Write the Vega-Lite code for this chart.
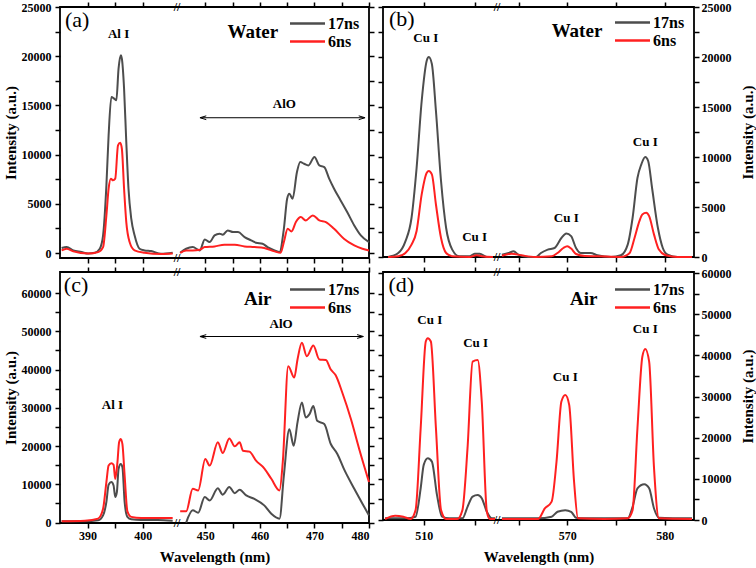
{
  "$schema": "https://vega.github.io/schema/vega-lite/v6.json",
  "padding": {"left": 2, "top": 0, "right": 0, "bottom": 0},
  "background": "white",
  "config": {
    "view": {"stroke": "black", "strokeWidth": 1.8},
    "font": "Liberation Serif",
    "axis": {"domain": false, "grid": false, "tickColor": "black", "tickWidth": 1.5, "tickSize": 5,
      "labelFont": "Liberation Serif", "labelFontSize": 12, "labelFontWeight": "bold", "labelColor": "black", "labelPadding": 4,
      "titleFont": "Liberation Serif", "titleFontSize": 15, "titleFontWeight": "bold", "titleColor": "black", "titlePadding": 3},
    "legend": {"labelFont": "Liberation Serif", "labelFontSize": 16, "labelFontWeight": "bold", "labelColor": "black",
      "symbolType": "M-2.5,0H2.5", "symbolSize": 196, "symbolStrokeWidth": 2.5, "rowPadding": 1, "labelOffset": 12, "title": null},
    "text": {"font": "Liberation Serif", "fontWeight": "bold", "fontSize": 13, "color": "black"}
  },
  "datasets": {
    "a": [
      {"x":385.3,"y":510,"s":"17ns","g":1},{"x":386.2,"y":610,"s":"17ns","g":1},{"x":387.4,"y":270,"s":"17ns","g":1},{"x":388.9,"y":100,"s":"17ns","g":1},{"x":390.1,"y":-50,"s":"17ns","g":1},{"x":391.3,"y":30,"s":"17ns","g":1},{"x":392.2,"y":440,"s":"17ns","g":1},{"x":392.8,"y":1800,"s":"17ns","g":1},{"x":393.4,"y":6880,"s":"17ns","g":1},{"x":393.8,"y":11960,"s":"17ns","g":1},{"x":394.3,"y":15860,"s":"17ns","g":1},{"x":394.8,"y":15690,"s":"17ns","g":1},{"x":395.2,"y":15520,"s":"17ns","g":1},{"x":395.6,"y":18740,"s":"17ns","g":1},{"x":396.0,"y":20100,"s":"17ns","g":1},{"x":396.2,"y":19750,"s":"17ns","g":1},{"x":396.6,"y":16700,"s":"17ns","g":1},{"x":397.0,"y":11280,"s":"17ns","g":1},{"x":397.4,"y":6540,"s":"17ns","g":1},{"x":397.9,"y":3490,"s":"17ns","g":1},{"x":398.5,"y":1800,"s":"17ns","g":1},{"x":399.4,"y":440,"s":"17ns","g":1},{"x":400.3,"y":270,"s":"17ns","g":1},{"x":401.5,"y":200,"s":"17ns","g":1},{"x":403.3,"y":-70,"s":"17ns","g":1},{"x":405.4,"y":30,"s":"17ns","g":1},
      {"x":445.4,"y":30,"s":"17ns","g":2},{"x":446.5,"y":440,"s":"17ns","g":2},{"x":447.7,"y":610,"s":"17ns","g":2},{"x":449.0,"y":270,"s":"17ns","g":2},{"x":449.9,"y":1390,"s":"17ns","g":2},{"x":450.8,"y":1120,"s":"17ns","g":2},{"x":451.7,"y":1800,"s":"17ns","g":2},{"x":452.6,"y":1970,"s":"17ns","g":2},{"x":453.2,"y":1860,"s":"17ns","g":2},{"x":454.1,"y":2300,"s":"17ns","g":2},{"x":455.1,"y":2130,"s":"17ns","g":2},{"x":456.0,"y":2130,"s":"17ns","g":2},{"x":457.2,"y":1630,"s":"17ns","g":2},{"x":458.4,"y":1290,"s":"17ns","g":2},{"x":459.3,"y":1050,"s":"17ns","g":2},{"x":460.5,"y":950,"s":"17ns","g":2},{"x":461.4,"y":610,"s":"17ns","g":2},{"x":462.7,"y":270,"s":"17ns","g":2},{"x":463.6,"y":100,"s":"17ns","g":2},{"x":464.4,"y":2470,"s":"17ns","g":2},{"x":465.0,"y":5520,"s":"17ns","g":2},{"x":465.4,"y":6030,"s":"17ns","g":2},{"x":466.0,"y":5520,"s":"17ns","g":2},{"x":466.8,"y":8230,"s":"17ns","g":2},{"x":467.4,"y":9250,"s":"17ns","g":2},{"x":468.1,"y":9080,"s":"17ns","g":2},{"x":468.9,"y":8910,"s":"17ns","g":2},{"x":470.0,"y":9760,"s":"17ns","g":2},{"x":470.9,"y":8910,"s":"17ns","g":2},{"x":471.8,"y":8740,"s":"17ns","g":2},{"x":472.7,"y":7560,"s":"17ns","g":2},{"x":473.6,"y":6540,"s":"17ns","g":2},{"x":474.8,"y":5350,"s":"17ns","g":2},{"x":476.0,"y":4170,"s":"17ns","g":2},{"x":477.3,"y":2810,"s":"17ns","g":2},{"x":478.5,"y":1800,"s":"17ns","g":2},{"x":480.0,"y":1120,"s":"17ns","g":2},
      {"x":385.3,"y":270,"s":"6ns","g":1},{"x":386.2,"y":440,"s":"6ns","g":1},{"x":387.4,"y":170,"s":"6ns","g":1},{"x":390.1,"y":-50,"s":"6ns","g":1},{"x":391.9,"y":100,"s":"6ns","g":1},{"x":392.8,"y":610,"s":"6ns","g":1},{"x":393.4,"y":3830,"s":"6ns","g":1},{"x":393.8,"y":6540,"s":"6ns","g":1},{"x":394.2,"y":7560,"s":"6ns","g":1},{"x":394.6,"y":7390,"s":"6ns","g":1},{"x":395.0,"y":7560,"s":"6ns","g":1},{"x":395.5,"y":10940,"s":"6ns","g":1},{"x":395.9,"y":11210,"s":"6ns","g":1},{"x":396.2,"y":10600,"s":"6ns","g":1},{"x":396.6,"y":6540,"s":"6ns","g":1},{"x":397.0,"y":3150,"s":"6ns","g":1},{"x":397.6,"y":1120,"s":"6ns","g":1},{"x":398.5,"y":270,"s":"6ns","g":1},{"x":400.3,"y":30,"s":"6ns","g":1},{"x":403.3,"y":-100,"s":"6ns","g":1},{"x":405.4,"y":-50,"s":"6ns","g":1},
      {"x":445.4,"y":30,"s":"6ns","g":2},{"x":446.5,"y":270,"s":"6ns","g":2},{"x":447.7,"y":270,"s":"6ns","g":2},{"x":449.0,"y":340,"s":"6ns","g":2},{"x":449.9,"y":610,"s":"6ns","g":2},{"x":451.7,"y":680,"s":"6ns","g":2},{"x":453.5,"y":850,"s":"6ns","g":2},{"x":455.4,"y":850,"s":"6ns","g":2},{"x":457.2,"y":680,"s":"6ns","g":2},{"x":459.0,"y":610,"s":"6ns","g":2},{"x":460.8,"y":510,"s":"6ns","g":2},{"x":462.7,"y":170,"s":"6ns","g":2},{"x":463.8,"y":30,"s":"6ns","g":2},{"x":464.4,"y":1120,"s":"6ns","g":2},{"x":465.1,"y":2470,"s":"6ns","g":2},{"x":465.8,"y":2200,"s":"6ns","g":2},{"x":466.6,"y":3150,"s":"6ns","g":2},{"x":467.5,"y":3660,"s":"6ns","g":2},{"x":468.4,"y":3320,"s":"6ns","g":2},{"x":469.7,"y":3830,"s":"6ns","g":2},{"x":470.9,"y":3320,"s":"6ns","g":2},{"x":472.1,"y":3150,"s":"6ns","g":2},{"x":473.6,"y":2470,"s":"6ns","g":2},{"x":475.4,"y":1460,"s":"6ns","g":2},{"x":477.3,"y":780,"s":"6ns","g":2},{"x":478.8,"y":440,"s":"6ns","g":2},{"x":480.0,"y":270,"s":"6ns","g":2}
    ],
    "b": [
      {"x":506.5,"y":0,"s":"17ns","g":1},{"x":507.5,"y":400,"s":"17ns","g":1},{"x":508.2,"y":1570,"s":"17ns","g":1},{"x":508.8,"y":3900,"s":"17ns","g":1},{"x":509.3,"y":8900,"s":"17ns","g":1},{"x":509.8,"y":15600,"s":"17ns","g":1},{"x":510.3,"y":19650,"s":"17ns","g":1},{"x":510.5,"y":20000,"s":"17ns","g":1},{"x":510.8,"y":19300,"s":"17ns","g":1},{"x":511.2,"y":14600,"s":"17ns","g":1},{"x":511.7,"y":7600,"s":"17ns","g":1},{"x":512.2,"y":2900,"s":"17ns","g":1},{"x":512.8,"y":740,"s":"17ns","g":1},{"x":513.5,"y":70,"s":"17ns","g":1},{"x":514.5,"y":70,"s":"17ns","g":1},{"x":515.0,"y":330,"s":"17ns","g":1},{"x":515.5,"y":330,"s":"17ns","g":1},{"x":516.2,"y":0,"s":"17ns","g":1},{"x":516.8,"y":0,"s":"17ns","g":1},
      {"x":563.3,"y":230,"s":"17ns","g":2},{"x":564.0,"y":400,"s":"17ns","g":2},{"x":564.5,"y":570,"s":"17ns","g":2},{"x":565.0,"y":230,"s":"17ns","g":2},{"x":566.0,"y":0,"s":"17ns","g":2},{"x":566.8,"y":0,"s":"17ns","g":2},{"x":567.3,"y":400,"s":"17ns","g":2},{"x":568.0,"y":740,"s":"17ns","g":2},{"x":568.7,"y":900,"s":"17ns","g":2},{"x":569.4,"y":1900,"s":"17ns","g":2},{"x":569.9,"y":2350,"s":"17ns","g":2},{"x":570.4,"y":2080,"s":"17ns","g":2},{"x":570.9,"y":900,"s":"17ns","g":2},{"x":571.4,"y":400,"s":"17ns","g":2},{"x":572.4,"y":400,"s":"17ns","g":2},{"x":573.1,"y":170,"s":"17ns","g":2},{"x":574.5,"y":0,"s":"17ns","g":2},{"x":575.5,"y":170,"s":"17ns","g":2},{"x":576.2,"y":1240,"s":"17ns","g":2},{"x":576.7,"y":3900,"s":"17ns","g":2},{"x":577.2,"y":7900,"s":"17ns","g":2},{"x":577.6,"y":9270,"s":"17ns","g":2},{"x":578.0,"y":10000,"s":"17ns","g":2},{"x":578.3,"y":9600,"s":"17ns","g":2},{"x":578.7,"y":6900,"s":"17ns","g":2},{"x":579.3,"y":2900,"s":"17ns","g":2},{"x":579.8,"y":900,"s":"17ns","g":2},{"x":580.3,"y":230,"s":"17ns","g":2},{"x":581.3,"y":0,"s":"17ns","g":2},{"x":582.8,"y":0,"s":"17ns","g":2},
      {"x":506.5,"y":0,"s":"6ns","g":1},{"x":507.5,"y":70,"s":"6ns","g":1},{"x":508.2,"y":400,"s":"6ns","g":1},{"x":508.8,"y":1240,"s":"6ns","g":1},{"x":509.3,"y":2600,"s":"6ns","g":1},{"x":509.8,"y":6260,"s":"6ns","g":1},{"x":510.3,"y":8430,"s":"6ns","g":1},{"x":510.5,"y":8600,"s":"6ns","g":1},{"x":510.8,"y":8270,"s":"6ns","g":1},{"x":511.2,"y":5250,"s":"6ns","g":1},{"x":511.7,"y":1900,"s":"6ns","g":1},{"x":512.2,"y":400,"s":"6ns","g":1},{"x":512.8,"y":70,"s":"6ns","g":1},{"x":514.5,"y":0,"s":"6ns","g":1},{"x":515.2,"y":170,"s":"6ns","g":1},{"x":515.7,"y":70,"s":"6ns","g":1},{"x":516.8,"y":0,"s":"6ns","g":1},
      {"x":563.3,"y":130,"s":"6ns","g":2},{"x":564.3,"y":330,"s":"6ns","g":2},{"x":565.3,"y":170,"s":"6ns","g":2},{"x":566.7,"y":0,"s":"6ns","g":2},{"x":568.4,"y":70,"s":"6ns","g":2},{"x":569.0,"y":400,"s":"6ns","g":2},{"x":569.6,"y":900,"s":"6ns","g":2},{"x":570.0,"y":1070,"s":"6ns","g":2},{"x":570.4,"y":840,"s":"6ns","g":2},{"x":570.9,"y":300,"s":"6ns","g":2},{"x":571.8,"y":100,"s":"6ns","g":2},{"x":573.1,"y":70,"s":"6ns","g":2},{"x":575.5,"y":0,"s":"6ns","g":2},{"x":576.4,"y":400,"s":"6ns","g":2},{"x":576.9,"y":1900,"s":"6ns","g":2},{"x":577.4,"y":3580,"s":"6ns","g":2},{"x":577.7,"y":4250,"s":"6ns","g":2},{"x":578.1,"y":4420,"s":"6ns","g":2},{"x":578.4,"y":4080,"s":"6ns","g":2},{"x":578.9,"y":2240,"s":"6ns","g":2},{"x":579.4,"y":740,"s":"6ns","g":2},{"x":580.1,"y":170,"s":"6ns","g":2},{"x":581.3,"y":0,"s":"6ns","g":2},{"x":582.8,"y":0,"s":"6ns","g":2}
    ],
    "c": [
      {"x":385.3,"y":350,"s":"17ns","g":1},{"x":389.5,"y":350,"s":"17ns","g":1},{"x":391.9,"y":600,"s":"17ns","g":1},{"x":392.8,"y":1900,"s":"17ns","g":1},{"x":393.4,"y":5400,"s":"17ns","g":1},{"x":393.8,"y":9900,"s":"17ns","g":1},{"x":394.3,"y":10600,"s":"17ns","g":1},{"x":394.7,"y":9700,"s":"17ns","g":1},{"x":395.0,"y":6700,"s":"17ns","g":1},{"x":395.3,"y":8000,"s":"17ns","g":1},{"x":395.6,"y":14000,"s":"17ns","g":1},{"x":396.0,"y":15350,"s":"17ns","g":1},{"x":396.3,"y":14500,"s":"17ns","g":1},{"x":396.7,"y":5400,"s":"17ns","g":1},{"x":397.2,"y":1500,"s":"17ns","g":1},{"x":397.9,"y":870,"s":"17ns","g":1},{"x":399.7,"y":700,"s":"17ns","g":1},{"x":402.7,"y":700,"s":"17ns","g":1},{"x":405.4,"y":500,"s":"17ns","g":1},
      {"x":446.5,"y":0,"s":"17ns","g":2},{"x":447.7,"y":3200,"s":"17ns","g":2},{"x":448.7,"y":2600,"s":"17ns","g":2},{"x":449.9,"y":6700,"s":"17ns","g":2},{"x":450.8,"y":5800,"s":"17ns","g":2},{"x":452.3,"y":9000,"s":"17ns","g":2},{"x":453.2,"y":7300,"s":"17ns","g":2},{"x":454.4,"y":9300,"s":"17ns","g":2},{"x":455.4,"y":7700,"s":"17ns","g":2},{"x":456.3,"y":8600,"s":"17ns","g":2},{"x":457.5,"y":7100,"s":"17ns","g":2},{"x":459.0,"y":6200,"s":"17ns","g":2},{"x":460.8,"y":4500,"s":"17ns","g":2},{"x":462.1,"y":2300,"s":"17ns","g":2},{"x":463.6,"y":1040,"s":"17ns","g":2},{"x":464.4,"y":12300,"s":"17ns","g":2},{"x":465.4,"y":24400,"s":"17ns","g":2},{"x":466.2,"y":20100,"s":"17ns","g":2},{"x":466.9,"y":26200,"s":"17ns","g":2},{"x":467.7,"y":31400,"s":"17ns","g":2},{"x":468.4,"y":27500,"s":"17ns","g":2},{"x":469.1,"y":28350,"s":"17ns","g":2},{"x":469.8,"y":30500,"s":"17ns","g":2},{"x":470.5,"y":26600,"s":"17ns","g":2},{"x":471.8,"y":25750,"s":"17ns","g":2},{"x":473.0,"y":20550,"s":"17ns","g":2},{"x":474.2,"y":17950,"s":"17ns","g":2},{"x":475.4,"y":14050,"s":"17ns","g":2},{"x":477.3,"y":8850,"s":"17ns","g":2},{"x":478.8,"y":4950,"s":"17ns","g":2},{"x":480.0,"y":1900,"s":"17ns","g":2},
      {"x":385.3,"y":350,"s":"6ns","g":1},{"x":389.5,"y":500,"s":"6ns","g":1},{"x":391.9,"y":1040,"s":"6ns","g":1},{"x":392.8,"y":3600,"s":"6ns","g":1},{"x":393.4,"y":10600,"s":"6ns","g":1},{"x":393.8,"y":14900,"s":"6ns","g":1},{"x":394.3,"y":15500,"s":"6ns","g":1},{"x":394.7,"y":15100,"s":"6ns","g":1},{"x":395.0,"y":11400,"s":"6ns","g":1},{"x":395.4,"y":15800,"s":"6ns","g":1},{"x":395.7,"y":21000,"s":"6ns","g":1},{"x":396.0,"y":21850,"s":"6ns","g":1},{"x":396.3,"y":20500,"s":"6ns","g":1},{"x":396.7,"y":12300,"s":"6ns","g":1},{"x":397.2,"y":2950,"s":"6ns","g":1},{"x":397.9,"y":1500,"s":"6ns","g":1},{"x":399.7,"y":1200,"s":"6ns","g":1},{"x":402.7,"y":1200,"s":"6ns","g":1},{"x":405.4,"y":1200,"s":"6ns","g":1},
      {"x":445.4,"y":2950,"s":"6ns","g":2},{"x":446.5,"y":2950,"s":"6ns","g":2},{"x":447.7,"y":8850,"s":"6ns","g":2},{"x":448.7,"y":8400,"s":"6ns","g":2},{"x":450.0,"y":16650,"s":"6ns","g":2},{"x":450.8,"y":14900,"s":"6ns","g":2},{"x":452.3,"y":21000,"s":"6ns","g":2},{"x":453.2,"y":18200,"s":"6ns","g":2},{"x":454.4,"y":22000,"s":"6ns","g":2},{"x":455.4,"y":19950,"s":"6ns","g":2},{"x":456.3,"y":21000,"s":"6ns","g":2},{"x":456.9,"y":18800,"s":"6ns","g":2},{"x":458.1,"y":18550,"s":"6ns","g":2},{"x":459.3,"y":16200,"s":"6ns","g":2},{"x":460.8,"y":14200,"s":"6ns","g":2},{"x":462.1,"y":11450,"s":"6ns","g":2},{"x":463.6,"y":8400,"s":"6ns","g":2},{"x":464.2,"y":15800,"s":"6ns","g":2},{"x":465.2,"y":40900,"s":"6ns","g":2},{"x":466.3,"y":37900,"s":"6ns","g":2},{"x":466.9,"y":42650,"s":"6ns","g":2},{"x":467.7,"y":47000,"s":"6ns","g":2},{"x":468.6,"y":43500,"s":"6ns","g":2},{"x":469.8,"y":46300,"s":"6ns","g":2},{"x":470.9,"y":42650,"s":"6ns","g":2},{"x":472.1,"y":42500,"s":"6ns","g":2},{"x":473.0,"y":40000,"s":"6ns","g":2},{"x":473.9,"y":38500,"s":"6ns","g":2},{"x":475.1,"y":34000,"s":"6ns","g":2},{"x":476.7,"y":27000,"s":"6ns","g":2},{"x":478.2,"y":19250,"s":"6ns","g":2},{"x":480.0,"y":10600,"s":"6ns","g":2}
    ],
    "d": [
      {"x":506.2,"y":400,"s":"17ns","g":1},{"x":508.2,"y":400,"s":"17ns","g":1},{"x":509.2,"y":800,"s":"17ns","g":1},{"x":509.7,"y":7700,"s":"17ns","g":1},{"x":510.0,"y":13400,"s":"17ns","g":1},{"x":510.4,"y":15000,"s":"17ns","g":1},{"x":510.8,"y":14200,"s":"17ns","g":1},{"x":511.3,"y":6100,"s":"17ns","g":1},{"x":511.8,"y":800,"s":"17ns","g":1},{"x":512.5,"y":400,"s":"17ns","g":1},{"x":513.8,"y":400,"s":"17ns","g":1},{"x":514.3,"y":3200,"s":"17ns","g":1},{"x":514.8,"y":5700,"s":"17ns","g":1},{"x":515.3,"y":6100,"s":"17ns","g":1},{"x":515.7,"y":5300,"s":"17ns","g":1},{"x":516.2,"y":2000,"s":"17ns","g":1},{"x":516.7,"y":400,"s":"17ns","g":1},{"x":517.0,"y":400,"s":"17ns","g":1},
      {"x":563.3,"y":400,"s":"17ns","g":2},{"x":567.0,"y":400,"s":"17ns","g":2},{"x":568.4,"y":800,"s":"17ns","g":2},{"x":569.0,"y":2000,"s":"17ns","g":2},{"x":569.8,"y":2400,"s":"17ns","g":2},{"x":570.4,"y":2000,"s":"17ns","g":2},{"x":570.9,"y":570,"s":"17ns","g":2},{"x":571.8,"y":400,"s":"17ns","g":2},{"x":576.2,"y":400,"s":"17ns","g":2},{"x":576.7,"y":3200,"s":"17ns","g":2},{"x":577.2,"y":7700,"s":"17ns","g":2},{"x":577.9,"y":8700,"s":"17ns","g":2},{"x":578.4,"y":7700,"s":"17ns","g":2},{"x":578.9,"y":2800,"s":"17ns","g":2},{"x":579.4,"y":570,"s":"17ns","g":2},{"x":582.8,"y":400,"s":"17ns","g":2},
      {"x":506.2,"y":240,"s":"6ns","g":1},{"x":507.2,"y":1050,"s":"6ns","g":1},{"x":508.0,"y":800,"s":"6ns","g":1},{"x":508.7,"y":240,"s":"6ns","g":1},{"x":509.2,"y":2400,"s":"6ns","g":1},{"x":509.7,"y":22300,"s":"6ns","g":1},{"x":510.2,"y":43400,"s":"6ns","g":1},{"x":510.4,"y":44200,"s":"6ns","g":1},{"x":510.7,"y":43400,"s":"6ns","g":1},{"x":511.2,"y":22300,"s":"6ns","g":1},{"x":511.7,"y":2400,"s":"6ns","g":1},{"x":512.2,"y":240,"s":"6ns","g":1},{"x":513.3,"y":240,"s":"6ns","g":1},{"x":513.8,"y":2400,"s":"6ns","g":1},{"x":514.3,"y":17400,"s":"6ns","g":1},{"x":514.8,"y":38500,"s":"6ns","g":1},{"x":515.3,"y":38900,"s":"6ns","g":1},{"x":515.7,"y":28800,"s":"6ns","g":1},{"x":516.2,"y":2000,"s":"6ns","g":1},{"x":516.5,"y":240,"s":"6ns","g":1},{"x":517.0,"y":240,"s":"6ns","g":1},
      {"x":563.3,"y":240,"s":"6ns","g":2},{"x":567.0,"y":240,"s":"6ns","g":2},{"x":567.7,"y":2800,"s":"6ns","g":2},{"x":568.4,"y":4460,"s":"6ns","g":2},{"x":568.9,"y":14200,"s":"6ns","g":2},{"x":569.4,"y":28800,"s":"6ns","g":2},{"x":569.8,"y":30400,"s":"6ns","g":2},{"x":570.2,"y":28000,"s":"6ns","g":2},{"x":570.7,"y":9300,"s":"6ns","g":2},{"x":571.1,"y":400,"s":"6ns","g":2},{"x":573.8,"y":240,"s":"6ns","g":2},{"x":576.2,"y":400,"s":"6ns","g":2},{"x":576.7,"y":2400,"s":"6ns","g":2},{"x":577.2,"y":22300,"s":"6ns","g":2},{"x":577.7,"y":39700,"s":"6ns","g":2},{"x":578.0,"y":41600,"s":"6ns","g":2},{"x":578.4,"y":38500,"s":"6ns","g":2},{"x":578.9,"y":12600,"s":"6ns","g":2},{"x":579.4,"y":400,"s":"6ns","g":2},{"x":582.8,"y":240,"s":"6ns","g":2}
    ]
  },
  "columns": 2,
  "spacing": {"row": 14, "column": 14},
  "bounds": "flush",
  "resolve": {"scale": {"x": "independent", "y": "independent", "color": "independent"}, "legend": {"color": "independent"}},
  "concat": [
    {
      "width": 309, "height": 251,
      "encoding": {
        "x": {"field": "x", "type": "quantitative", "scale": {"domain": [385, 406, 445, 480], "range": [0, 116, 118, 309], "nice": false, "zero": false},
          "axis": {"values": [390, 395, 400, 450, 455, 460, 465, 470, 475, 480], "labels": false, "title": null}},
        "y": {"field": "y", "type": "quantitative", "scale": {"domain": [-500, 25000], "nice": false, "zero": false},
          "axis": {"values": [0, 2500, 5000, 7500, 10000, 12500, 15000, 17500, 20000, 22500, 25000], "format": "d",
            "labelExpr": "datum.value % 5000 === 0 ? datum.label : ''", "title": "Intensity (a.u.)"}}
      },
      "resolve": {"axis": {"x": "independent", "y": "independent"}},
      "layer": [
        {"layer": [
          {"data": {"name": "a"}, "mark": {"type": "line", "strokeWidth": 2, "interpolate": "monotone"},
            "encoding": {"color": {"field": "s", "type": "nominal", "scale": {"domain": ["17ns", "6ns"], "range": ["#4d4d4d", "#ff2020"]},
              "legend": {"orient": "none", "legendX": 239, "legendY": 8}}, "detail": {"field": "g", "type": "nominal"}}},
          {"data": {"values": [{"x": 395.6, "y": 22290, "t": "Al I"}, {"x": 464.5, "y": 15180, "t": "AlO"}]}, "mark": {"type": "text"}, "encoding": {"text": {"field": "t"}}},
          {"data": {"values": [{"x": 458.7, "y": 22460, "t": "Water"}]}, "mark": {"type": "text", "fontSize": 19}, "encoding": {"text": {"field": "t"}}},
          {"data": {"values": [{"x": 388.1, "y": 23680, "t": "(a)"}]}, "mark": {"type": "text", "fontSize": 22, "fontWeight": "normal"}, "encoding": {"text": {"field": "t"}}},
          {"data": {"values": [{"x": 425, "y": -500, "t": "//"}, {"x": 425, "y": 25000, "t": "//"}]}, "mark": {"type": "text", "fontSize": 12}, "encoding": {"text": {"field": "t"}}},
          {"data": {"values": [{"x": 449.2, "x2": 479.1, "y": 13750}]}, "mark": {"type": "rule", "strokeWidth": 1, "color": "black"}, "encoding": {"x2": {"field": "x2"}}},
          {"data": {"values": [{"x": 449.6, "y": 13750}]}, "mark": {"type": "point", "shape": "M1,-0.6L-1,0L1,0.6", "filled": false, "stroke": "black", "strokeWidth": 1, "size": 40, "opacity": 1}},
          {"data": {"values": [{"x": 478.7, "y": 13750}]}, "mark": {"type": "point", "shape": "M-1,-0.6L1,0L-1,0.6", "filled": false, "stroke": "black", "strokeWidth": 1, "size": 40, "opacity": 1}}
        ]},
        {"data": {"name": "a"}, "mark": {"type": "point", "opacity": 0},
          "encoding": {
            "x": {"field": "x", "type": "quantitative", "scale": {"domain": [385, 406, 445, 480], "range": [0, 116, 118, 309], "nice": false, "zero": false},
              "axis": {"orient": "top", "values": [390, 395, 400, 450, 455, 460, 465, 470, 475, 480], "labels": false, "title": null}},
            "y": {"field": "y", "type": "quantitative", "scale": {"domain": [-500, 25000], "nice": false, "zero": false},
              "axis": {"orient": "right", "values": [0, 2500, 5000, 7500, 10000, 12500, 15000, 17500, 20000, 22500, 25000], "labels": false, "title": null}}
          }}
      ]
    },
    {
      "width": 311, "height": 250,
      "encoding": {
        "x": {"field": "x", "type": "quantitative", "scale": {"domain": [506, 517, 563, 583], "range": [0, 112, 116, 311], "nice": false, "zero": false},
          "axis": {"values": [510, 515, 565, 570, 575, 580], "labels": false, "title": null}},
        "y": {"field": "y", "type": "quantitative", "scale": {"domain": [0, 25000], "nice": false, "zero": false},
          "axis": {"orient": "right", "values": [0, 2500, 5000, 7500, 10000, 12500, 15000, 17500, 20000, 22500, 25000], "format": "d",
            "labelExpr": "datum.value % 5000 === 0 ? datum.label : ''", "title": "Intensity (a.u.)", "titleAngle": 270, "titleBaseline": "top", "labelPadding": 2, "titlePadding": 9}}
      },
      "resolve": {"axis": {"x": "independent", "y": "independent"}},
      "layer": [
        {"layer": [
          {"data": {"name": "b"}, "mark": {"type": "line", "strokeWidth": 2, "interpolate": "monotone"},
            "encoding": {"color": {"field": "s", "type": "nominal", "scale": {"domain": ["17ns", "6ns"], "range": ["#4d4d4d", "#ff2020"]},
              "legend": {"orient": "none", "legendX": 241, "legendY": 7}}, "detail": {"field": "g", "type": "nominal"}}},
          {"data": {"values": [{"x": 510.2, "y": 21870, "t": "Cu I"}, {"x": 515.0, "y": 2030, "t": "Cu I"}, {"x": 569.9, "y": 3870, "t": "Cu I"}, {"x": 578.0, "y": 11530, "t": "Cu I"}]}, "mark": {"type": "text"}, "encoding": {"text": {"field": "t"}}},
          {"data": {"values": [{"x": 571.0, "y": 22600, "t": "Water"}]}, "mark": {"type": "text", "fontSize": 19}, "encoding": {"text": {"field": "t"}}},
          {"data": {"values": [{"x": 507.85, "y": 23850, "t": "(b)"}]}, "mark": {"type": "text", "fontSize": 22, "fontWeight": "normal"}, "encoding": {"text": {"field": "t"}}},
          {"data": {"values": [{"x": 540, "y": 0, "t": "//"}, {"x": 540, "y": 25000, "t": "//"}]}, "mark": {"type": "text", "fontSize": 12}, "encoding": {"text": {"field": "t"}}}
        ]},
        {"data": {"name": "b"}, "mark": {"type": "point", "opacity": 0},
          "encoding": {
            "x": {"field": "x", "type": "quantitative", "scale": {"domain": [506, 517, 563, 583], "range": [0, 112, 116, 311], "nice": false, "zero": false},
              "axis": {"orient": "top", "values": [510, 515, 565, 570, 575, 580], "labels": false, "title": null}},
            "y": {"field": "y", "type": "quantitative", "scale": {"domain": [0, 25000], "nice": false, "zero": false},
              "axis": {"orient": "left", "values": [0, 2500, 5000, 7500, 10000, 12500, 15000, 17500, 20000, 22500, 25000], "labels": false, "title": null}}
          }}
      ]
    },
    {
      "width": 309, "height": 251,
      "encoding": {
        "x": {"field": "x", "type": "quantitative", "scale": {"domain": [385, 406, 445, 480], "range": [0, 116, 118, 309], "nice": false, "zero": false},
          "axis": {"values": [390, 395, 400, 450, 455, 460, 465, 470, 475, 480], "format": "d", "labelExpr": "datum.value % 10 === 0 ? datum.label : ''", "title": "Wavelength (nm)", "labelPadding": 2, "titlePadding": 8}},
        "y": {"field": "y", "type": "quantitative", "scale": {"domain": [-100, 65500], "nice": false, "zero": false},
          "axis": {"values": [0, 5000, 10000, 15000, 20000, 25000, 30000, 35000, 40000, 45000, 50000, 55000, 60000], "format": "d",
            "labelExpr": "datum.value % 10000 === 0 ? datum.label : ''", "title": "Intensity (a.u.)"}}
      },
      "resolve": {"axis": {"x": "independent", "y": "independent"}},
      "layer": [
        {"layer": [
          {"data": {"name": "c"}, "mark": {"type": "line", "strokeWidth": 2, "interpolate": "monotone"},
            "encoding": {"color": {"field": "s", "type": "nominal", "scale": {"domain": ["17ns", "6ns"], "range": ["#4d4d4d", "#ff2020"]},
              "legend": {"orient": "none", "legendX": 239, "legendY": 9}}, "detail": {"field": "g", "type": "nominal"}}},
          {"data": {"values": [{"x": 394.5, "y": 30800, "t": "Al I"}, {"x": 463.9, "y": 51860, "t": "AlO"}]}, "mark": {"type": "text"}, "encoding": {"text": {"field": "t"}}},
          {"data": {"values": [{"x": 459.6, "y": 58500, "t": "Air"}]}, "mark": {"type": "text", "fontSize": 19}, "encoding": {"text": {"field": "t"}}},
          {"data": {"values": [{"x": 387.9, "y": 62150, "t": "(c)"}]}, "mark": {"type": "text", "fontSize": 22, "fontWeight": "normal"}, "encoding": {"text": {"field": "t"}}},
          {"data": {"values": [{"x": 425, "y": -100, "t": "//"}, {"x": 425, "y": 65500, "t": "//"}]}, "mark": {"type": "text", "fontSize": 12}, "encoding": {"text": {"field": "t"}}},
          {"data": {"values": [{"x": 449.2, "x2": 478.8, "y": 48640}]}, "mark": {"type": "rule", "strokeWidth": 1, "color": "black"}, "encoding": {"x2": {"field": "x2"}}},
          {"data": {"values": [{"x": 449.6, "y": 48640}]}, "mark": {"type": "point", "shape": "M1,-0.6L-1,0L1,0.6", "filled": false, "stroke": "black", "strokeWidth": 1, "size": 40, "opacity": 1}},
          {"data": {"values": [{"x": 478.4, "y": 48640}]}, "mark": {"type": "point", "shape": "M-1,-0.6L1,0L-1,0.6", "filled": false, "stroke": "black", "strokeWidth": 1, "size": 40, "opacity": 1}}
        ]},
        {"data": {"name": "c"}, "mark": {"type": "point", "opacity": 0},
          "encoding": {
            "x": {"field": "x", "type": "quantitative", "scale": {"domain": [385, 406, 445, 480], "range": [0, 116, 118, 309], "nice": false, "zero": false},
              "axis": {"orient": "top", "values": [390, 395, 400, 450, 455, 460, 465, 470, 475, 480], "labels": false, "title": null}},
            "y": {"field": "y", "type": "quantitative", "scale": {"domain": [-100, 65500], "nice": false, "zero": false},
              "axis": {"orient": "right", "values": [0, 5000, 10000, 15000, 20000, 25000, 30000, 35000, 40000, 45000, 50000, 55000, 60000], "labels": false, "title": null}}
          }}
      ]
    },
    {
      "width": 311, "height": 248,
      "encoding": {
        "x": {"field": "x", "type": "quantitative", "scale": {"domain": [506, 517, 563, 583], "range": [0, 112, 116, 311], "nice": false, "zero": false},
          "axis": {"values": [510, 515, 565, 570, 575, 580], "format": "d", "labelExpr": "datum.value % 10 === 0 ? datum.label : ''", "title": "Wavelength (nm)", "labelPadding": 5, "titlePadding": 8}},
        "y": {"field": "y", "type": "quantitative", "scale": {"domain": [0, 60300], "nice": false, "zero": false},
          "axis": {"orient": "right", "values": [0, 5000, 10000, 15000, 20000, 25000, 30000, 35000, 40000, 45000, 50000, 55000, 60000], "format": "d",
            "labelExpr": "datum.value % 10000 === 0 ? datum.label : ''", "title": "Intensity (a.u.)", "titleAngle": 270, "titleBaseline": "top", "labelPadding": 2, "titlePadding": 9}}
      },
      "resolve": {"axis": {"x": "independent", "y": "independent"}},
      "layer": [
        {"layer": [
          {"data": {"name": "d"}, "mark": {"type": "line", "strokeWidth": 2, "interpolate": "monotone"},
            "encoding": {"color": {"field": "s", "type": "nominal", "scale": {"domain": ["17ns", "6ns"], "range": ["#4d4d4d", "#ff2020"]},
              "legend": {"orient": "none", "legendX": 241, "legendY": 9}}, "detail": {"field": "g", "type": "nominal"}}},
          {"data": {"values": [{"x": 510.6, "y": 48680, "t": "Cu I"}, {"x": 515.1, "y": 43000, "t": "Cu I"}, {"x": 569.8, "y": 34650, "t": "Cu I"}, {"x": 578.0, "y": 46400, "t": "Cu I"}]}, "mark": {"type": "text"}, "encoding": {"text": {"field": "t"}}},
          {"data": {"values": [{"x": 571.7, "y": 53790, "t": "Air"}]}, "mark": {"type": "text", "fontSize": 19}, "encoding": {"text": {"field": "t"}}},
          {"data": {"values": [{"x": 507.8, "y": 57190, "t": "(d)"}]}, "mark": {"type": "text", "fontSize": 22, "fontWeight": "normal"}, "encoding": {"text": {"field": "t"}}},
          {"data": {"values": [{"x": 540, "y": 0, "t": "//"}, {"x": 540, "y": 60300, "t": "//"}]}, "mark": {"type": "text", "fontSize": 12}, "encoding": {"text": {"field": "t"}}}
        ]},
        {"data": {"name": "d"}, "mark": {"type": "point", "opacity": 0},
          "encoding": {
            "x": {"field": "x", "type": "quantitative", "scale": {"domain": [506, 517, 563, 583], "range": [0, 112, 116, 311], "nice": false, "zero": false},
              "axis": {"orient": "top", "values": [510, 515, 565, 570, 575, 580], "labels": false, "title": null}},
            "y": {"field": "y", "type": "quantitative", "scale": {"domain": [0, 60300], "nice": false, "zero": false},
              "axis": {"orient": "left", "values": [0, 5000, 10000, 15000, 20000, 25000, 30000, 35000, 40000, 45000, 50000, 55000, 60000], "labels": false, "title": null}}
          }}
      ]
    }
  ]
}
